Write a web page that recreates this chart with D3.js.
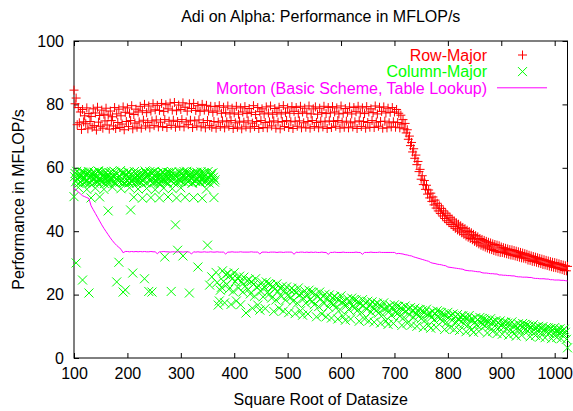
<!DOCTYPE html>
<html>
<head>
<meta charset="utf-8">
<script src="https://cdn.jsdelivr.net/npm/d3@7"></script>
<style>
  body { margin: 0; background: #fff; }
  text { font-family: "Liberation Sans", Arial, sans-serif; }
</style>
</head>
<body>
<script>

// x positions: problem sizes, one mark every 2 (row/column) or 4 (morton)
const sizes = d3.range(100, 1025, 2);
const oddSizes = d3.range(101, 364, 2);
const mortonSizes = d3.range(100, 1025, 4);

const xTicks = [100, 200, 300, 400, 500, 600, 700, 800, 900, 1000];
const yTicks = [0, 20, 40, 60, 80, 100];

const seriesNames = ["Row-Major", "Column-Major", "Morton (Basic Scheme, Table Lookup)"];

// MFLOP/s
const rowMajor = [
  84.5, 80.2, 82.0, 73.6, 79.0, 74.2, 77.6, 72.1, 78.4, 74.5,
  76.4, 73.9, 78.9, 72.3, 77.1, 74.6, 76.2, 72.8, 78.6, 73.3,
  77.3, 71.9, 79.1, 74.4, 76.5, 73.1, 78.2, 72.5, 76.9, 74.8,
  78.8, 73.5, 76.6, 72.2, 77.9, 74.9, 76.1, 73.2, 79.0, 72.4,
  77.0, 74.3, 78.5, 72.7, 76.4, 73.8, 79.2, 72.0, 77.5, 74.6,
  78.9, 73.0, 77.2, 74.9, 79.6, 72.3, 76.8, 74.1, 78.5, 72.8,
  77.6, 74.5, 79.4, 72.5, 78.0, 75.0, 80.0, 73.2, 77.4, 74.3,
  79.5, 72.6, 77.9, 74.8, 80.2, 73.3, 78.3, 75.1, 79.7, 72.9,
  78.1, 74.4, 80.3, 73.0, 77.8, 75.2, 79.9, 72.7, 78.6, 74.7,
  80.4, 73.4, 78.2, 75.0, 80.6, 72.8, 78.0, 74.6, 79.8, 73.1,
  78.4, 75.2, 80.5, 72.9, 79.1, 74.5, 77.9, 73.6, 80.2, 75.0,
  78.7, 72.7, 80.3, 74.8, 78.1, 73.2, 79.6, 75.1, 77.8, 72.9,
  80.0, 74.3, 78.2, 72.6, 79.7, 74.9, 77.9, 73.3, 79.4, 72.8,
  77.5, 74.6, 79.3, 72.5, 77.9, 74.4, 79.6, 73.0, 77.2, 74.8,
  79.1, 72.6, 77.4, 74.5, 79.5, 73.1, 77.0, 74.9, 78.8, 72.4,
  77.3, 74.2, 79.4, 72.8, 76.9, 74.7, 78.9, 72.3, 77.6, 74.4,
  79.3, 72.9, 77.1, 74.8, 78.7, 72.5, 77.5, 74.1, 79.6, 73.0,
  76.8, 74.6, 79.0, 72.4, 77.7, 74.9, 78.6, 72.7, 77.0, 74.3,
  79.2, 72.6, 77.3, 74.5, 79.5, 73.2, 76.9, 74.8, 78.7, 72.5,
  77.4, 74.4, 79.1, 72.3, 77.0, 74.6, 79.6, 73.0, 77.5, 74.9,
  78.9, 72.7, 77.2, 74.5, 79.3, 72.4, 77.8, 74.7, 79.0, 73.1,
  77.1, 74.8, 79.4, 72.6, 77.6, 74.2, 78.8, 72.8, 77.2, 74.6,
  79.5, 72.5, 77.0, 74.9, 78.6, 73.0, 79.2, 74.3, 76.9, 72.6,
  78.8, 74.7, 77.4, 72.9, 79.4, 74.5, 77.1, 72.4, 79.0, 74.8,
  77.3, 72.7, 79.3, 74.6, 77.6, 73.1, 78.9, 74.9, 77.0, 72.5,
  79.5, 74.4, 77.2, 72.8, 78.7, 74.7, 77.5, 72.6, 79.2, 74.2,
  77.0, 72.9, 79.0, 74.5, 77.7, 72.4, 79.4, 74.8, 77.3, 73.0,
  78.9, 74.6, 77.1, 72.5, 79.3, 74.3, 77.6, 72.8, 78.6, 74.9,
  77.4, 72.7, 79.5, 74.4, 77.0, 73.1, 79.1, 74.6, 77.8, 72.5,
  79.2, 74.7, 77.3, 72.6, 78.8, 74.2, 77.5, 72.9, 79.0, 74.5,
  77.6, 72.8, 78.4, 74.3, 77.2, 72.6, 76.6, 73.8, 75.2, 72.3,
  74.0, 71.0, 72.0, 69.0, 70.0, 67.0, 68.0, 65.0, 66.0, 63.0,
  64.0, 61.0, 62.0, 58.8, 59.5, 56.4, 57.5, 54.7, 56.0, 53.2,
  54.5, 51.7, 53.0, 50.5, 52.0, 49.4, 50.8, 48.3, 49.8, 47.3,
  48.8, 46.4, 48.0, 45.6, 47.2, 44.8, 46.4, 44.0, 45.7, 43.3,
  45.0, 42.7, 44.4, 42.1, 43.8, 41.5, 43.2, 40.9, 42.6, 40.4,
  42.2, 40.0, 41.7, 39.5, 41.2, 39.0, 40.8, 38.5, 40.3, 38.1,
  39.9, 37.7, 39.5, 37.3, 39.0, 36.8, 38.6, 36.4, 38.2, 36.0,
  37.7, 35.6, 37.4, 35.3, 37.1, 35.0, 36.8, 34.7, 36.5, 34.4,
  36.3, 34.2, 36.0, 33.9, 35.8, 33.7, 35.6, 33.5, 35.4, 33.3,
  35.0, 33.3, 34.8, 33.1, 34.6, 32.9, 34.4, 32.7, 34.2, 32.5,
  34.1, 32.4, 33.9, 32.2, 33.7, 32.0, 33.5, 31.8, 33.3, 31.6,
  33.1, 31.5, 32.9, 31.3, 32.7, 30.9, 32.4, 30.8, 32.2, 30.5,
  32.0, 30.4, 31.8, 30.2, 31.6, 30.0, 31.4, 29.8, 31.2, 29.5,
  31.0, 29.4, 30.8, 29.2, 30.6, 29.0, 30.4, 28.8, 30.2, 28.6,
  30.1, 28.5, 29.9, 28.3, 29.7, 28.1, 29.5, 27.9, 29.3, 27.6,
  29.1, 27.5, 28.9
];

const colMajor = [
  50.9, 58.2, 30.0, 56.4, 53.8, 57.3, 55.6, 58.7,
  24.6, 56.6, 58.4, 55.7, 53.2, 58.1, 20.5, 55.1,
  50.5, 57.8, 56.2, 58.6, 53.6, 57.1, 55.4, 58.9,
  50.8, 56.6, 58.4, 55.7, 53.2, 58.1, 56.9, 55.1,
  46.4, 57.5, 55.9, 58.8, 53.9, 57.3, 55.2, 58.5,
  24.0, 56.8, 30.2, 55.5, 53.4, 58.3, 20.8, 55.3,
  21.5, 57.6, 56.0, 58.7, 53.7, 46.7, 55.6, 26.8,
  50.7, 56.9, 58.2, 55.8, 53.3, 58.0, 56.7, 55.4,
  50.4, 57.9, 25.0, 58.5, 53.5, 57.2, 21.0, 58.8,
  50.6, 20.8, 58.6, 55.6, 53.1, 58.2, 56.8, 55.2,
  50.5, 57.7, 56.1, 58.7, 53.6, 31.9, 55.5, 58.6,
  50.8, 56.7, 58.3, 21.0, 53.4, 58.0, 56.8, 42.0,
  50.5, 34.0, 56.3, 58.5, 53.7, 57.0, 32.2, 58.8,
  50.7, 56.8, 58.3, 55.6, 20.5, 58.1, 56.6, 55.3,
  50.6, 57.6, 56.0, 58.6, 28.7, 57.2, 55.5, 58.7,
  50.4, 56.9, 58.2, 55.8, 53.3, 35.6, 56.8, 23.0,
  57.4, 25.6, 58.4, 50.6, 56.2,
  27.0, 23.8, 16.7, 18.0, 21.4, 22.3, 27.5, 24.2, 17.4, 26.3,
  23.2, 26.7, 21.7, 26.0, 16.9, 25.0, 21.0, 26.9, 24.1, 18.0,
  25.1, 22.1, 25.8, 16.8, 24.1, 20.8, 25.5, 22.6, 14.2, 24.4,
  21.6, 24.8, 20.2, 24.1, 15.7, 23.2, 19.5, 25.0, 22.4, 16.7,
  22.7, 15.1, 21.0, 23.8, 19.3, 22.4, 15.6, 24.0, 20.6, 23.4,
  20.2, 23.2, 18.9, 22.6, 14.7, 21.7, 18.3, 23.4, 21.0, 15.7,
  22.0, 19.4, 22.6, 14.8, 21.2, 18.3, 22.4, 19.8, 14.3, 21.5,
  19.1, 22.0, 17.9, 21.4, 14.0, 20.5, 17.3, 22.1, 19.9, 14.9,
  20.3, 13.5, 18.7, 21.2, 17.3, 20.0, 13.9, 21.4, 18.4, 20.8,
  17.9, 20.7, 16.8, 20.1, 13.0, 19.3, 16.2, 20.8, 18.7, 13.9,
  19.5, 17.2, 20.1, 13.0, 18.8, 16.1, 19.9, 17.5, 12.6, 19.0,
  16.9, 19.4, 15.8, 18.9, 12.3, 18.1, 15.3, 19.6, 17.6, 13.1,
  17.9, 11.9, 16.6, 18.7, 15.3, 17.7, 12.3, 18.9, 16.2, 18.4,
  15.9, 18.3, 14.9, 17.8, 11.6, 17.1, 14.4, 18.4, 16.5, 12.3,
  17.4, 15.4, 17.9, 11.7, 16.7, 14.5, 17.7, 15.7, 11.3, 17.0,
  15.0, 17.3, 14.1, 16.8, 11.0, 16.1, 13.6, 17.4, 15.6, 11.7,
  15.9, 10.6, 14.7, 16.6, 13.5, 15.7, 10.9, 16.8, 14.4, 16.3,
  14.1, 16.3, 13.2, 15.8, 10.3, 15.2, 12.8, 16.4, 14.7, 11.0,
  15.5, 13.6, 15.9, 10.4, 14.8, 12.8, 15.7, 13.9, 10.0, 15.1,
  13.3, 15.3, 12.4, 14.9, 9.6, 14.3, 12.0, 15.4, 13.8, 10.3,
  14.1, 9.4, 13.0, 14.7, 12.0, 13.9, 9.7, 14.9, 12.8, 14.5,
  12.4, 14.3, 11.6, 13.9, 9.0, 13.3, 11.2, 14.4, 12.9, 9.6,
  13.5, 11.9, 13.9, 9.0, 13.0, 11.2, 13.7, 12.1, 8.7, 13.1,
  11.5, 13.3, 10.8, 12.9, 8.3, 12.4, 10.4, 13.4, 12.0, 8.9,
  12.2, 8.1, 11.2, 12.7, 10.4, 12.0, 8.4, 12.8, 11.0, 12.5,
  10.7, 12.3, 10.1, 12.0, 7.9, 11.5, 9.8, 12.4, 11.2, 8.4,
  11.5, 10.1, 11.8, 7.7, 11.1, 9.5, 11.7, 10.3, 7.5, 11.2,
  9.9, 11.3, 9.2, 11.0, 7.2, 10.6, 8.9, 11.4, 10.2, 7.7,
  10.3, 6.9, 9.6, 10.8, 8.8, 10.2, 7.2, 10.9, 9.4, 10.6,
  9.1, 10.4, 8.5, 10.1, 6.7, 9.7, 8.2, 10.5, 9.4, 7.1,
  9.7, 8.6, 10.0, 6.6, 9.4, 8.1, 9.9, 8.8, 6.4, 9.5,
  8.3, 9.5, 7.8, 9.3, 6.1, 8.9, 7.5, 9.6, 8.6, 6.5,
  9.0, 7.9, 9.2, 6.1, 8.6, 7.5, 9.1, 8.1, 5.9, 3.2
];

// odd sizes 101..363 of the column-major run (the dense upper band)
const colMajorOdd = [
  57.2, 55.6, 58.9, 56.4, 55.1, 58.2, 57.7, 55.9, 58.6, 56.8, 55.3, 57.9,
  56.1, 58.8, 55.4, 57.5, 58.3, 56.6, 55.2, 58.0, 57.1, 55.8, 59.0, 56.3,
  58.5, 55.7, 57.3, 56.9, 55.0, 58.7, 56.2, 57.8, 55.5, 58.4, 56.7, 55.9,
  57.6, 58.9, 55.3, 56.5, 58.1, 55.8, 57.4, 59.1, 56.0, 55.4, 58.3, 57.0,
  55.6, 57.9, 58.6, 55.2, 56.8, 58.0, 55.7, 56.3, 58.8, 57.2, 55.1, 58.5,
  56.9, 55.5, 58.2, 57.7, 55.9, 56.4, 59.0, 55.3, 57.5, 58.1, 56.1, 55.8,
  58.4, 56.7, 55.2, 58.9, 57.0, 55.6, 58.3, 56.5, 55.0, 57.8, 58.6, 56.2,
  55.7, 58.0, 56.8, 55.4, 58.5, 57.3, 55.9, 58.8, 56.4, 55.2, 57.6, 58.2,
  57.1, 55.3, 58.7, 56.1, 55.8, 58.4, 57.5, 55.5, 56.9, 58.9, 55.6, 57.4,
  58.1, 56.6, 55.1, 57.9, 58.6, 55.7, 56.3, 58.3, 57.2, 55.4, 58.0, 56.7,
  55.9, 58.5, 57.3, 55.6, 56.5, 58.8, 55.2, 57.7, 58.2, 56.0, 57.0, 55.5
];

const morton = [
  53.6, 53.0, 52.4, 51.8, 51.2, 50.9, 50.6, 50.3, 48.0, 46.8,
  45.6, 44.4, 43.2, 42.0, 40.9, 39.9, 38.9, 37.9, 37.0, 36.2,
  35.5, 34.9, 34.3, 33.2, 33.6, 33.6, 33.5, 33.6, 33.5, 33.6,
  33.5, 33.6, 33.5, 33.6, 33.5, 33.5, 33.6, 33.5, 33.5, 32.9,
  33.5, 33.5, 33.6, 33.5, 33.5, 33.4, 33.5, 33.5, 33.4, 33.5,
  33.5, 33.4, 33.5, 33.5, 33.4, 32.8, 33.5, 33.4, 33.5, 33.4,
  33.4, 33.5, 33.4, 33.4, 33.5, 33.4, 33.4, 33.5, 33.4, 33.4,
  33.4, 32.8, 33.4, 33.4, 33.5, 33.4, 33.4, 33.4, 33.5, 33.4,
  33.4, 33.4, 33.4, 33.5, 33.4, 33.4, 33.4, 32.8, 33.4, 33.4,
  33.4, 33.3, 33.4, 33.4, 33.4, 33.3, 33.4, 33.4, 33.3, 33.4,
  33.4, 33.4, 33.4, 32.7, 33.4, 33.3, 33.4, 33.4, 33.3, 33.4,
  33.3, 33.4, 33.3, 33.4, 33.3, 33.3, 33.4, 33.3, 33.3, 32.7,
  33.3, 33.3, 33.4, 33.3, 33.3, 33.3, 33.4, 33.3, 33.3, 33.3,
  33.3, 33.3, 33.4, 33.3, 33.3, 32.7, 33.3, 33.3, 33.3, 33.4,
  33.3, 33.3, 33.3, 33.4, 33.3, 33.3, 33.3, 33.3, 33.3, 33.3,
  33.3, 32.9, 33.0, 32.9, 32.8, 32.6, 32.5, 32.3, 32.2, 31.9,
  31.7, 31.5, 31.3, 31.1, 30.9, 30.7, 30.5, 30.1, 29.9, 29.8,
  29.6, 29.5, 29.4, 29.2, 29.1, 28.7, 28.6, 28.5, 28.4, 28.3,
  28.2, 28.1, 28.0, 27.7, 27.6, 27.5, 27.5, 27.4, 27.3, 27.2,
  27.2, 26.9, 26.8, 26.8, 26.7, 26.6, 26.6, 26.5, 26.5, 26.2,
  26.2, 26.1, 26.1, 26.0, 26.0, 25.9, 25.9, 25.7, 25.6, 25.6,
  25.5, 25.5, 25.5, 25.4, 25.4, 25.2, 25.1, 25.1, 25.0, 25.0,
  25.0, 24.9, 24.9, 24.7, 24.7, 24.6, 24.6, 24.6, 24.5, 24.5,
  24.4, 24.3
];

var width = 573;
var height = 411;

const margin = {left: 74, top: 41, right: 5.5, bottom: 53};
const colors = ["#ff0000", "#00ff00", "#ff00ff"];
const ms = 4.5; // half size of a point symbol

var svg = d3.select("body").append("svg")
      .attr("width", width)
      .attr("height", height)
      .style("background", "#fff");

const x = d3.scaleLinear()
    .domain([100, 1024])
    .range([margin.left, width - margin.right]);

const y = d3.scaleLinear()
    .domain([0, 100])
    .range([height - margin.bottom, margin.top]);

function plus(px, py) {
  return "M" + (px - ms) + "," + py + "H" + (px + ms) + "M" + px + "," + (py - ms) + "V" + (py + ms);
}
function cross(px, py) {
  return "M" + (px - ms) + "," + (py - ms) + "L" + (px + ms) + "," + (py + ms) +
         "M" + (px - ms) + "," + (py + ms) + "L" + (px + ms) + "," + (py - ms);
}

// **** axes *****************
function styleAxis(g) {
  g.select(".domain").remove();
  g.selectAll("line").attr("stroke", "#000");
  g.selectAll("text").attr("font-size", 16).attr("fill", "#000")
    .attr("font-family", "'Liberation Sans', Arial, sans-serif");
}

svg.append("g")
    .attr("transform", "translate(0," + y(0) + ")")
    .call(d3.axisBottom(x).tickValues(xTicks).tickFormat(d3.format("d"))
        .tickSizeInner(-5).tickSizeOuter(0).tickPadding(10))
    .call(styleAxis);

svg.append("g")
    .attr("transform", "translate(0," + y(100) + ")")
    .call(d3.axisTop(x).tickValues(xTicks).tickSizeInner(-5).tickSizeOuter(0).tickFormat(""))
    .call(styleAxis);

svg.append("g")
    .attr("transform", "translate(" + x(100) + ",0)")
    .call(d3.axisLeft(y).tickValues(yTicks).tickSizeInner(-5).tickSizeOuter(0).tickPadding(10))
    .call(styleAxis);

svg.append("g")
    .attr("transform", "translate(" + x(1024) + ",0)")
    .call(d3.axisRight(y).tickValues(yTicks).tickSizeInner(-5).tickSizeOuter(0).tickFormat(""))
    .call(styleAxis);

svg.append("rect")
    .attr("x", x(100))
    .attr("y", y(100))
    .attr("width", x(1024) - x(100))
    .attr("height", y(0) - y(100))
    .attr("fill", "none")
    .attr("stroke", "#000");

// **** titles *****************
svg.append("text")
    .attr("x", (x(100) + x(1024)) / 2)
    .attr("y", 21.5)
    .attr("text-anchor", "middle")
    .attr("font-size", 16)
    .text("Adi on Alpha: Performance in MFLOP/s");

svg.append("text")
    .attr("x", (x(100) + x(1024)) / 2)
    .attr("y", 404.5)
    .attr("text-anchor", "middle")
    .attr("font-size", 16)
    .text("Square Root of Datasize");

svg.append("text")
    .attr("transform", "translate(23.5," + (y(0) + y(100)) / 2 + ") rotate(-90)")
    .attr("text-anchor", "middle")
    .attr("font-size", 16)
    .text("Performance in MFLOP/s");

// **** data *****************
const plot = svg.append("g").attr("fill", "none").attr("stroke-width", 1);

plot.selectAll(".row")
  .data(rowMajor)
  .join("path")
    .attr("class", "row")
    .attr("stroke", colors[0])
    .attr("d", function(d, i) { return plus(x(sizes[i]), y(d)); });

plot.selectAll(".col")
  .data(colMajor)
  .join("path")
    .attr("class", "col")
    .attr("stroke", colors[1])
    .attr("d", function(d, i) { return cross(x(sizes[i]), y(d)); });

plot.selectAll(".colodd")
  .data(colMajorOdd)
  .join("path")
    .attr("class", "colodd")
    .attr("stroke", colors[1])
    .attr("d", function(d, i) { return cross(x(oddSizes[i]), y(d)); });

plot.append("path")
    .datum(morton)
    .attr("stroke", colors[2])
    .attr("d", d3.line()
        .x(function(d, i) { return x(mortonSizes[i]); })
        .y(function(d) { return y(d); }));

// **** legend *****************
const legend = svg.append("g");
const legendY = [60.7, 77.3, 93.7];
const textEnd = 487, sampleX = 522.5;

seriesNames.forEach(function(name, i) {
  legend.append("text")
      .attr("x", textEnd)
      .attr("y", legendY[i])
      .attr("text-anchor", "end")
      .attr("font-size", 16)
      .attr("fill", colors[i])
      .text(name);
});

legend.append("path").attr("fill", "none").attr("stroke", colors[0])
    .attr("d", plus(sampleX, legendY[0] - 5.7));
legend.append("path").attr("fill", "none").attr("stroke", colors[1])
    .attr("d", cross(sampleX, legendY[1] - 5.7));
legend.append("line")
    .attr("x1", 497).attr("x2", 547)
    .attr("y1", legendY[2] - 5.9).attr("y2", legendY[2] - 5.9)
    .attr("stroke", colors[2]);

</script>
</body>
</html>
